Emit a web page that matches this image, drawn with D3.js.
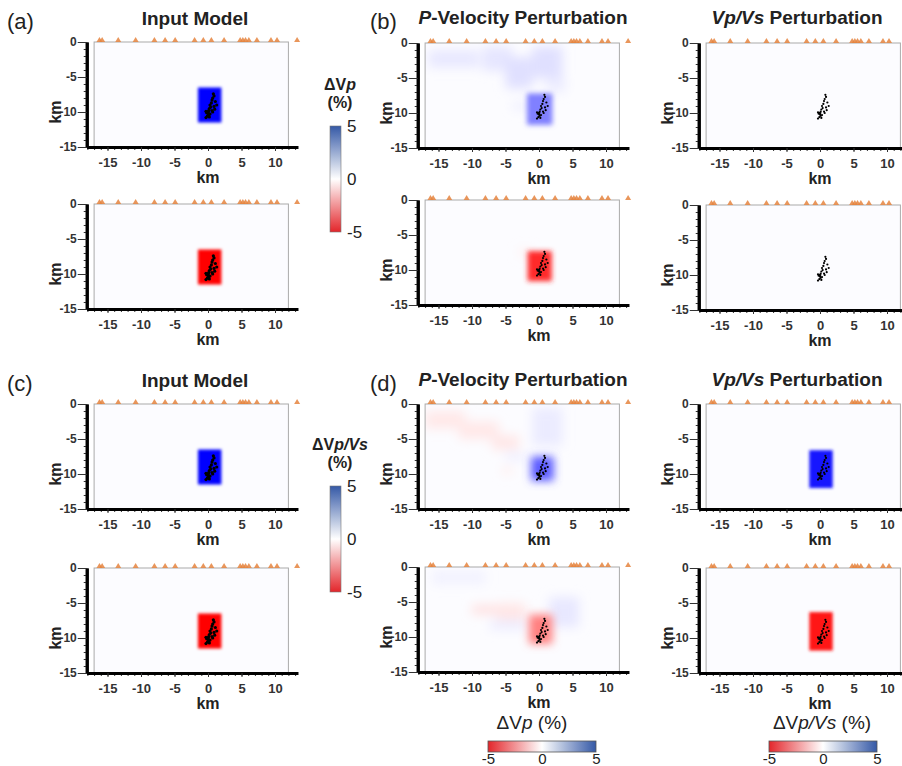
<!DOCTYPE html>
<html>
<head>
<meta charset="utf-8">
<script src="https://cdn.jsdelivr.net/npm/d3@7"></script>
<style>
  body { margin: 0; background: #fff; }
  svg { font-family: "Liberation Sans", Arial, sans-serif; }
</style>
</head>
<body>
<div id="fig"></div>
<script>
// station positions along the profile (km)
const stations = [-16.2, -15.8, -13.4, -10.8, -8.0, -6.4, -4.9, -2.0, -0.7, 0.5, 2.4, 4.8, 5.2, 5.6, 6.1, 7.3, 9.4, 10.3, 13.3];

// hypocentres [x km, z km]
const quakes = [
  [0.8, -7.4], [0.9, -7.7], [0.7, -8.0], [0.6, -8.3], [1.1, -8.5], [0.5, -8.7],
  [0.3, -9.0], [0.9, -9.2], [1.3, -9.0], [0.4, -9.3], [0.2, -9.5], [0.1, -9.8],
  [0.6, -9.8], [-0.1, -10.0], [0.0, -10.2], [-0.2, -10.1], [0.1, -10.4], [-0.1, -10.6],
  [-0.3, -10.8], [0.2, -10.7], [1.0, -9.6], [0.7, -10.0], [-0.3, -9.9], [0.05, -10.0], [0.3, -10.3]
];

const xTicks = [-15, -10, -5, 0, 5, 10];
const zTicks = [0, -5, -10, -15];
const legendTicks = [-5, 0, 5];

// anomaly patches [x0, x1, z0, z1, perturbation %]
const inputPos = [[-1.5, 2.0, -6.5, -11.5, 5]];
const inputNeg = [[-1.5, 2.0, -6.5, -11.5, -5]];
const pRecPos = [[-1.8, 2.0, -7.2, -11.7, 2.5]];
const pRecPosBg = [
  [-16.5, -9, -1, -3.5, 0.45], [-8.5, -4, -0.5, -4, 0.5], [-5, -1, -2, -6.5, 0.6],
  [-1, 3.5, -0.5, -5, 0.6], [-4, -1, -8.5, -9.5, 0.35], [1, 4, -5, -7, 0.35]
];
const pRecNeg = [[-1.7, 1.9, -7.3, -11.6, -4.2]];
const pRecNegBg = [[-3, -1, -7, -8, -0.3]];
const vsRecP = [];
const vsRecN = [];
const pRecVsPos = [[-1.2, 2.2, -7.5, -11, 3.2]];
const pRecVsPosBg = [
  [-17, -11, -1, -3.5, -0.45], [-12, -6, -2.5, -5, -0.45], [-7, -3, -4.5, -6.5, -0.5],
  [-1, 3.5, -0.5, -6, 0.4], [-5, -2, -7, -8, 0.35], [-5.5, -4, -9, -10, -0.35]
];
const pRecVsNeg = [[-1.5, 2.0, -6.8, -11, -2.5]];
const pRecVsNegBg = [
  [-16, -8, -0.5, -2.5, 0.25], [-10, -6, -5.5, -6.7, -0.65], [-6.3, -2, -5.2, -7.6, -0.5],
  [1.5, 6, -4.3, -8.6, 0.45], [-7.3, -2, -7.6, -9, 0.35]
];
const vsRecVsPos = [[-1.6, 1.9, -6.6, -12.0, 4.6]];
const vsRecVsNeg = [[-1.6, 1.9, -6.3, -11.8, -4.6]];

const W = 902, H = 766;
const kx = 6.7, ky = 7;
const colX0 = [208, 539, 820];
const rowY0 = [[42, 43, 43], [204, 200, 205], [404, 404, 404], [568, 567, 568]];

const panels = [
  {col: 0, row: 0, data: inputPos, blur: 1.5, bg: []}, {col: 1, row: 0, data: pRecPos, blur: 2.5, bg: pRecPosBg},
  {col: 2, row: 0, data: vsRecP, blur: 2, bg: []}, {col: 0, row: 1, data: inputNeg, blur: 1.5, bg: []},
  {col: 1, row: 1, data: pRecNeg, blur: 2.5, bg: pRecNegBg}, {col: 2, row: 1, data: vsRecN, blur: 2, bg: []},
  {col: 0, row: 2, data: inputPos, blur: 1.5, bg: []}, {col: 1, row: 2, data: pRecVsPos, blur: 4, bg: pRecVsPosBg},
  {col: 2, row: 2, data: vsRecVsPos, blur: 1.5, bg: []}, {col: 0, row: 3, data: inputNeg, blur: 1.5, bg: []},
  {col: 1, row: 3, data: pRecVsNeg, blur: 4, bg: pRecVsNegBg}, {col: 2, row: 3, data: vsRecVsNeg, blur: 1.5, bg: []}
];

const heat = d3.scaleLinear().domain([-5, 0, 5]).range(["#ff0000", "#ffffff", "#0000ff"]);
const barColor = d3.scaleLinear().domain([-5, 0, 5]).range(["#e3262b", "#ffffff", "#3559a6"]);

const svg = d3.select("#fig").append("svg").attr("width", W).attr("height", H);
const defs = svg.append("defs");

const blurId = b => "blur" + String(b).replace(".", "_");
[1.5, 2, 2.5, 4, 5.5].forEach(b => {
  defs.append("filter").attr("id", blurId(b))
    .attr("filterUnits", "userSpaceOnUse")
    .attr("x", 0).attr("y", 0).attr("width", W).attr("height", H)
    .append("feGaussianBlur").attr("stdDeviation", b);
});

const stops = d3.range(-5, 5.01, 1);
const gv = defs.append("linearGradient").attr("id", "gv").attr("x1", 0).attr("y1", 0).attr("x2", 0).attr("y2", 1);
stops.slice().reverse().forEach((v, i) => gv.append("stop").attr("offset", i / 10).attr("stop-color", barColor(v)));
const gh = defs.append("linearGradient").attr("id", "gh").attr("x1", 0).attr("y1", 0).attr("x2", 1).attr("y2", 0);
stops.forEach((v, i) => gh.append("stop").attr("offset", i / 10).attr("stop-color", barColor(v)));

panels.forEach((p, idx) => {
  const x0 = colX0[p.col], y0 = rowY0[p.row][p.col];
  const x = d3.scaleLinear().domain([-18.1, 13.4]).range([x0 - 18.1 * kx, x0 + 13.4 * kx]);
  const y = d3.scaleLinear().domain([0, -15]).range([y0, y0 + 15 * ky]);
  const g = svg.append("g");

  defs.append("clipPath").attr("id", "clip" + idx).append("rect")
    .attr("x", x(-17)).attr("y", y(0)).attr("width", x(12) - x(-17)).attr("height", y(-15) - y(0));

  g.append("rect")
    .attr("x", x(-17)).attr("y", y(0)).attr("width", x(12) - x(-17)).attr("height", y(-15) - y(0))
    .attr("fill", "#fcfcff");

  const clip = g.append("g").attr("clip-path", `url(#clip${idx})`);
  [[p.bg, 5.5], [p.data, p.blur]].forEach(([rows, b]) => {
    clip.append("g").attr("filter", `url(#${blurId(b)})`)
      .selectAll("rect").data(rows).enter().append("rect")
      .attr("x", d => x(d[0])).attr("width", d => x(d[1]) - x(d[0]))
      .attr("y", d => y(d[2])).attr("height", d => y(d[3]) - y(d[2]))
      .attr("fill", d => heat(d[4]));
  });

  g.append("rect")
    .attr("x", x(-17)).attr("y", y(0)).attr("width", x(12) - x(-17)).attr("height", y(-15) - y(0))
    .attr("fill", "none").attr("stroke", "#aaa").attr("stroke-width", 1);

  g.selectAll("circle.eq").data(quakes).enter().append("circle")
    .attr("cx", d => x(d[0])).attr("cy", d => y(d[1]))
    .attr("r", p.col === 0 ? 1.6 : 1.1).attr("fill", "#000");

  g.selectAll("path.sta").data(stations).enter().append("path")
    .attr("d", d => `M${x(d) - 3},${y(0)}L${x(d) + 3},${y(0)}L${x(d)},${y(0) - 5}Z`)
    .attr("fill", "#e5843e").attr("opacity", 0.85);

  // bottom axis
  const bx = g.append("g").attr("transform", `translate(0,${y(-15)})`);
  bx.append("g").call(d3.axisBottom(x).tickValues(d3.range(-18, 14)).tickSize(3).tickSizeOuter(0).tickFormat(""));
  const bxt = bx.append("g").call(d3.axisBottom(x).tickValues(xTicks).tickSize(4).tickSizeOuter(0).tickPadding(7).tickFormat(d => String(d)));
  // left axis
  const ly = g.append("g").attr("transform", `translate(${x(-18.1)},0)`);
  ly.append("g").call(d3.axisLeft(y).tickValues(d3.range(0, -16, -1)).tickSize(3).tickSizeOuter(0).tickFormat(""));
  const lyt = ly.append("g").call(d3.axisLeft(y).tickValues(zTicks).tickSize(9).tickSizeOuter(0).tickPadding(1).tickFormat(d => String(d)));

  g.selectAll(".domain").attr("stroke", "#000").attr("stroke-width", 3);
  g.selectAll(".tick line").attr("stroke", "#333");
  g.selectAll(".tick text").attr("fill", "#333").style("font-weight", "bold")
    .style("font-family", '"Liberation Sans", Arial, sans-serif');
  bxt.selectAll("text").style("font-size", "13px");
  lyt.selectAll("text").style("font-size", "12px");

  g.append("text").attr("x", x(0)).attr("y", y(-15) + 36).attr("text-anchor", "middle")
    .style("font-size", "16px").style("font-weight", "bold").attr("fill", "#222").text("km");
  g.append("text").attr("transform", `translate(${x(-18.1) - 31},${y(-10)}) rotate(-90)`)
    .attr("text-anchor", "middle").attr("dy", "0.35em")
    .style("font-size", "16px").style("font-weight", "bold").attr("fill", "#222").text("km");
});

// titles
[0, 362].forEach((off, k) => {
  svg.append("text").attr("x", 7).attr("y", 29 + off).style("font-size", "22px").attr("fill", "#222").text(k ? "(c)" : "(a)");
  svg.append("text").attr("x", 370).attr("y", 29 + off).style("font-size", "22px").attr("fill", "#222").text(k ? "(d)" : "(b)");
  svg.append("text").attr("x", 195).attr("y", 25 + off).attr("text-anchor", "middle")
    .style("font-size", "19px").style("font-weight", "bold").attr("fill", "#222").text("Input Model");
  const t2 = svg.append("text").attr("x", 523).attr("y", 24 + off).attr("text-anchor", "middle")
    .style("font-size", "19px").style("font-weight", "bold").attr("fill", "#222");
  t2.append("tspan").style("font-style", "italic").text("P");
  t2.append("tspan").text("-Velocity Perturbation");
  const t3 = svg.append("text").attr("x", 797).attr("y", 24 + off).attr("text-anchor", "middle")
    .style("font-size", "19px").style("font-weight", "bold").attr("fill", "#222");
  t3.append("tspan").style("font-style", "italic").text("Vp/Vs");
  t3.append("tspan").text(" Perturbation");
});

// vertical colour bars
function labelDelta(sel, italic) {
  sel.append("tspan").text("ΔV");
  sel.append("tspan").style("font-style", "italic").text(italic);
}
[[126, "p"], [486, "p/Vs"]].forEach(([top, lab]) => {
  const t = svg.append("text").attr("x", 340).attr("y", top - 36).attr("text-anchor", "middle")
    .style("font-size", "16px").style("font-weight", "bold").attr("fill", "#222");
  labelDelta(t, lab);
  svg.append("text").attr("x", 340).attr("y", top - 18).attr("text-anchor", "middle")
    .style("font-size", "16px").style("font-weight", "bold").attr("fill", "#222").text("(%)");
  svg.append("rect").attr("x", 330).attr("y", top).attr("width", 11).attr("height", 106)
    .attr("fill", "url(#gv)").attr("stroke", "#777").attr("stroke-width", 0.6);
  const ls = d3.scaleLinear().domain([5, -5]).range([top, top + 106]);
  const ax = svg.append("g").attr("transform", "translate(341,0)")
    .call(d3.axisRight(ls).tickValues(legendTicks).tickSize(0).tickPadding(6).tickFormat(d => String(d)));
  ax.select(".domain").remove();
  ax.selectAll("text").style("font-size", "17px").attr("fill", "#222")
    .style("font-family", '"Liberation Sans", Arial, sans-serif');
});

// horizontal colour bars
[[488, 532, "p"], [769, 822, "p/Vs"]].forEach(([left, cx, lab]) => {
  const t = svg.append("text").attr("x", cx).attr("y", 729).attr("text-anchor", "middle")
    .style("font-size", "19px").attr("fill", "#222");
  labelDelta(t, lab);
  t.append("tspan").text("  (%)");
  svg.append("rect").attr("x", left).attr("y", 741).attr("width", 108).attr("height", 11)
    .attr("fill", "url(#gh)").attr("stroke", "#555").attr("stroke-width", 0.8);
  const hs = d3.scaleLinear().domain([-5, 5]).range([left, left + 108]);
  const ax = svg.append("g").attr("transform", "translate(0,752)")
    .call(d3.axisBottom(hs).tickValues(legendTicks).tickSize(0).tickPadding(1).tickFormat(d => String(d)));
  ax.select(".domain").remove();
  ax.selectAll("text").style("font-size", "15px").attr("fill", "#222")
    .style("font-family", '"Liberation Sans", Arial, sans-serif');
});
</script>
</body>
</html>
